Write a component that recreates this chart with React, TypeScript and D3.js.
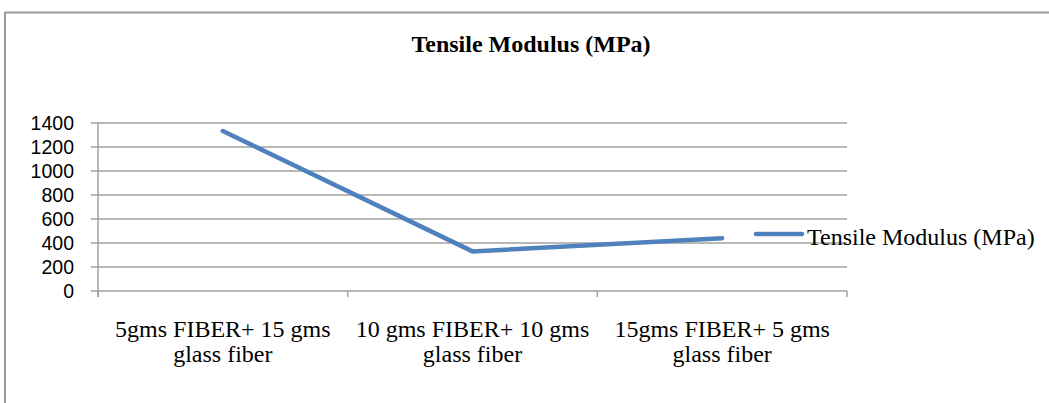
import React from "react";
import * as d3 from "d3";

const categories = [
  ["5gms FIBER+ 15 gms", "glass fiber"],
  ["10 gms FIBER+ 10 gms", "glass fiber"],
  ["15gms FIBER+ 5 gms", "glass fiber"],
];
const values = [1333, 330, 440];
const yTicks = [0, 200, 400, 600, 800, 1000, 1200, 1400];
const seriesName = "Tensile Modulus (MPa)";
const title = "Tensile Modulus (MPa)";

const W = 1049;
const H = 403;
const plotLeft = 98;
const plotRight = 847;
const plotTop = 123;
const plotBottom = 291;
const lineColor = "#4F81BD";
const gridColor = "#A0A0A0";

export default function App() {
  const x = d3
    .scaleBand<number>()
    .domain(categories.map((_, i) => i))
    .range([plotLeft, plotRight]);
  const y = d3.scaleLinear().domain([0, 1400]).range([plotBottom, plotTop]);
  const line = d3
    .line<number>()
    .x((_, i) => (x(i) as number) + x.bandwidth() / 2)
    .y((d) => y(d));
  const bounds = [...categories.map((_, i) => x(i) as number), plotRight];

  return (
    <svg
      width={W}
      height={H}
      style={{ position: "absolute", left: 0, top: 0, background: "#fff" }}
    >
      <rect x={0} y={0} width={W} height={H} fill="#fff" />
      {/* frame */}
      <line x1={5} x2={W} y1={12.5} y2={12.5} stroke="#999" strokeWidth={2} />
      <line x1={5} x2={5} y1={12} y2={H} stroke="#999" strokeWidth={2} />
      <text
        x={531}
        y={52}
        textAnchor="middle"
        fontFamily="'Liberation Serif', serif"
        fontWeight="bold"
        fontSize={24}
      >
        {title}
      </text>
      {/* gridlines */}
      {yTicks.map((t) => (
        <line
          key={t}
          x1={plotLeft}
          x2={plotRight}
          y1={y(t)}
          y2={y(t)}
          stroke={gridColor}
          strokeWidth={1.5}
        />
      ))}
      {/* y axis */}
      <line x1={plotLeft} x2={plotLeft} y1={plotTop} y2={plotBottom + 6} stroke={gridColor} strokeWidth={1.5} />
      {yTicks.map((t) => (
        <g key={"yt" + t}>
          <line x1={plotLeft - 7} x2={plotLeft} y1={y(t)} y2={y(t)} stroke={gridColor} strokeWidth={1.5} />
          <text
            x={74}
            y={y(t) + 7}
            textAnchor="end"
            fontFamily="'Liberation Sans', Arial, sans-serif"
            fontSize={19.5}
            fill="#000"
          >
            {t}
          </text>
        </g>
      ))}
      {/* x axis ticks */}
      {bounds.map((b, i) => (
        <line key={"xt" + i} x1={b} x2={b} y1={plotBottom} y2={plotBottom + 6} stroke={gridColor} strokeWidth={1.5} />
      ))}
      {categories.map((c, i) => (
        <text
          key={"cat" + i}
          textAnchor="middle"
          fontFamily="'Liberation Serif', serif"
          fontSize={24}
          fill="#000"
        >
          {c.map((l, j) => (
            <tspan key={j} x={(x(i) as number) + x.bandwidth() / 2} y={337 + j * 25}>
              {l}
            </tspan>
          ))}
        </text>
      ))}
      {/* series line */}
      <path
        d={line(values) || ""}
        fill="none"
        stroke={lineColor}
        strokeWidth={4.5}
        strokeLinecap="round"
        strokeLinejoin="round"
      />
      {/* legend */}
      <line x1={756} x2={802} y1={234} y2={234} stroke={lineColor} strokeWidth={4.5} strokeLinecap="round" />
      <text
        x={807}
        y={245}
        fontFamily="'Liberation Serif', serif"
        fontSize={24}
        fill="#000"
      >
        {seriesName}
      </text>
    </svg>
  );
}
